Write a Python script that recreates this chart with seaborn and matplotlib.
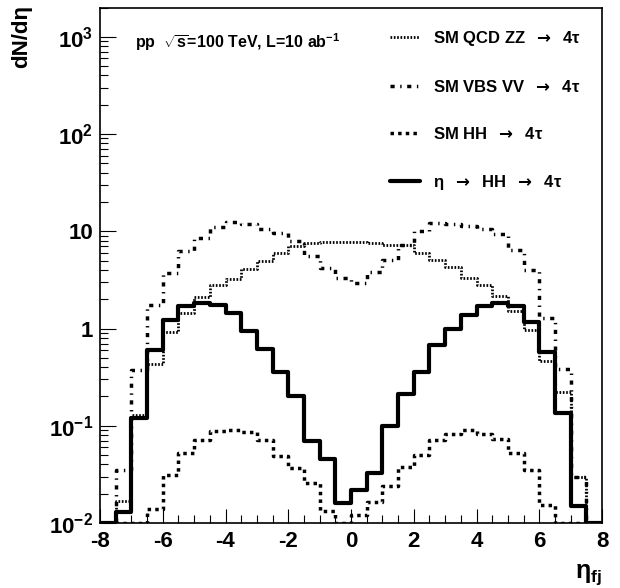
import numpy as np
import pandas as pd
import matplotlib
matplotlib.use("Agg")
import matplotlib.pyplot as plt
import seaborn as sns
from matplotlib.ticker import MultipleLocator, LogLocator, NullFormatter

# bin edges in eta_fj (0.5 wide, -8 .. 8)
edges = [-8 + 0.5 * i for i in range(33)]
centers = [e + 0.25 for e in edges[:-1]]

qcd_zz = [0.01, 0.017, 0.13, 0.43, 0.91, 1.45, 2.1, 2.77, 3.26, 4.1, 5.0, 6.0, 7.1, 7.5, 7.7, 7.7,
          7.8, 7.6, 7.3, 7.2, 6.0, 5.1, 4.3, 3.3, 2.77, 2.15, 1.5, 0.96, 0.46, 0.22, 0.030, 0.01]
vbs_vv = [0.01, 0.035, 0.37, 1.73, 3.7, 6.3, 8.5, 11.0, 12.6, 12.0, 10.5, 9.5, 7.9, 5.6, 4.2, 3.3,
          2.97, 3.8, 5.1, 7.3, 10.0, 12.3, 12.0, 11.3, 10.5, 9.3, 6.4, 4.0, 1.29, 0.38, 0.03, 0.01]
sm_hh = [0.01, 0.01, 0.01, 0.014, 0.031, 0.052, 0.071, 0.089, 0.09, 0.086, 0.071, 0.049, 0.037, 0.026, 0.0134, 0.01,
         0.012, 0.0166, 0.024, 0.0375, 0.050, 0.071, 0.083, 0.09, 0.083, 0.073, 0.052, 0.035, 0.0153, 0.01, 0.01, 0.01]
eta_hh = [0.01, 0.013, 0.12, 0.60, 1.23, 1.70, 1.84, 1.74, 1.43, 0.95, 0.62, 0.36, 0.20, 0.069, 0.046, 0.016,
          0.022, 0.033, 0.10, 0.21, 0.36, 0.67, 1.0, 1.38, 1.70, 1.84, 1.70, 1.17, 0.57, 0.135, 0.015, 0.01]

arrow = r"  $\mathsf{\rightarrow}$  "
tau = r"4$\mathrm{\tau}$"
labels = ["SM QCD ZZ" + arrow + tau, "SM VBS VV" + arrow + tau,
          "SM HH" + arrow + tau, r"$\mathrm{\eta}$" + arrow + "HH" + arrow + tau]
styles = [(0, (0.6, 0.6)), (0, (1.2, 1.6, 0.4, 1.6)), (0, (1, 1.2)), "-"]
widths = [2.0, 2.5, 2.5, 3.0]

xticks = [-8, -6, -4, -2, 0, 2, 4, 6, 8]
xticklabels = ["-8", "-6", "-4", "-2", "0", "2", "4", "6", "8"]
yticks = [1e-2, 1e-1, 1, 10, 1e2, 1e3]
yticklabels = [r"$\mathbf{10^{-2}}$", r"$\mathbf{10^{-1}}$", "1", "10",
               r"$\mathbf{10^{2}}$", r"$\mathbf{10^{3}}$"]

df = pd.DataFrame({"eta": np.tile(centers, 4),
                   "n": np.concatenate([qcd_zz, vbs_vv, sm_hh, eta_hh]),
                   "sample": np.repeat(labels, len(centers))})

sns.set_style("ticks")
plt.rcParams["font.family"] = ["Liberation Sans", "DejaVu Sans"]
plt.rcParams["font.weight"] = "bold"
plt.rcParams["mathtext.fontset"] = "custom"
plt.rcParams["mathtext.rm"] = "Liberation Sans"
plt.rcParams["mathtext.bf"] = "Liberation Sans:bold"
plt.rcParams["mathtext.it"] = "Liberation Sans:italic"
plt.rcParams["mathtext.sf"] = "DejaVu Sans"
for k in ["text.color", "axes.labelcolor", "xtick.color", "ytick.color", "axes.edgecolor"]:
    plt.rcParams[k] = "black"

fig = plt.figure(figsize=(6.2, 5.88), dpi=100)
ax = fig.add_axes([100 / 620, 1 - 523 / 588, 502 / 620, (523 - 7.5) / 588])

for lab, ls, lw in zip(labels, styles, widths):
    sub = df[df["sample"] == lab]
    sns.histplot(data=sub, x="eta", weights="n", bins=edges, element="step", fill=False,
                 color="black", linestyle=ls, linewidth=lw, label=lab, ax=ax)

ax.set_yscale("log")
ax.set_xlim(-8, 8)
ax.set_ylim(1e-2, 2000)

ax.set_xticks(xticks, xticklabels)
ax.xaxis.set_minor_locator(MultipleLocator(0.5))
ax.set_yticks(yticks, yticklabels)
ax.yaxis.set_minor_locator(LogLocator(base=10, subs=np.arange(2, 10), numticks=20))
ax.yaxis.set_minor_formatter(NullFormatter())
ax.tick_params(axis="both", which="both", direction="in", top=False, right=False, width=0.8,
               labelsize=16)
ax.tick_params(axis="x", which="major", length=10, pad=6)
ax.tick_params(axis="x", which="minor", length=5.5)
ax.tick_params(axis="y", which="major", length=11.5, pad=5)
ax.tick_params(axis="y", which="minor", length=5.8)
for s in ax.spines.values():
    s.set_visible(True)
    s.set_linewidth(1.2)

ax.set_xlabel(r"$\mathrm{\eta}_{\mathbf{fj}}$", loc="right", fontsize=18, labelpad=7)
ax.set_ylabel("dN/dη", loc="top", fontsize=16, fontweight="bold")
ax.yaxis.set_label_coords(-0.135, 1.005)

fig.text(135 / 620, 1 - 42 / 588, r"pp  $\sqrt{\mathrm{s}}$=100 TeV, L=10 ab$^{\mathbf{-1}}$",
         fontsize=11.5, fontweight="bold", va="center", ha="left")

ax.legend(loc="upper left", bbox_to_anchor=(390 / 620, 1 - 29 / 588), bbox_transform=fig.transFigure,
          frameon=False, fontsize=12, borderpad=0, borderaxespad=0, labelspacing=1.85,
          handlelength=1.8, handletextpad=0.78)

fig.savefig("out.png", dpi=100)
